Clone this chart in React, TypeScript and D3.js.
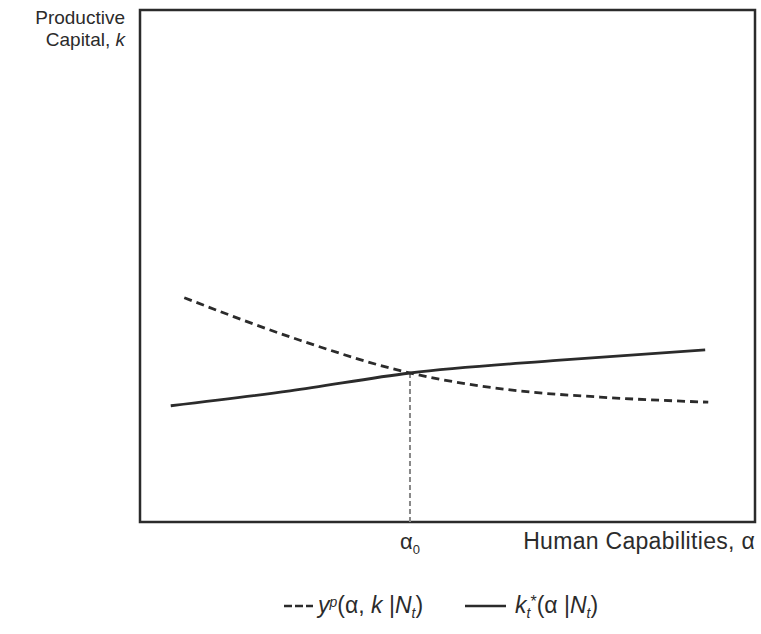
import React from "react";
import * as d3 from "d3";

// abstract units: alpha (x) 0..10, k (y) 0..10
const kStarX = [0.5, 2.44, 4.39, 6.83, 9.19];
const kStarY = [2.27, 2.56, 2.91, 3.16, 3.36];
const yPX = [0.72, 2.6, 4.39, 6.02, 7.48, 9.24];
const yPY = [4.38, 3.55, 2.91, 2.58, 2.44, 2.34];
const alpha0 = 4.39;
const alpha0K = 2.91;

const W = 761;
const H = 634;
const FONT = "'Liberation Sans', Arial, sans-serif";
const INK = "#2b2b2b";

const App: React.FC = () => {
  const x = d3.scaleLinear().domain([0, 10]).range([140, 755]);
  const y = d3.scaleLinear().domain([0, 10]).range([522, 10]);

  const line = d3
    .line<[number, number]>()
    .x((d) => x(d[0]))
    .y((d) => y(d[1]))
    .curve(d3.curveMonotoneX);

  const solid = kStarX.map((v, i) => [v, kStarY[i]] as [number, number]);
  const dashed = yPX.map((v, i) => [v, yPY[i]] as [number, number]);

  return (
    <svg
      width={W}
      height={H}
      style={{ position: "absolute", left: 0, top: 0, background: "#fff" }}
      fontFamily={FONT}
    >
      {/* frame */}
      <rect
        x={x(0)}
        y={y(10)}
        width={x(10) - x(0)}
        height={y(0) - y(10)}
        fill="none"
        stroke={INK}
        strokeWidth={2.5}
      />

      {/* vertical guide at alpha0 */}
      <line
        x1={x(alpha0)}
        x2={x(alpha0)}
        y1={y(alpha0K)}
        y2={y(0)}
        stroke="#888"
        strokeWidth={2}
        strokeDasharray="5,3"
      />

      <path d={line(dashed) ?? ""} fill="none" stroke={INK} strokeWidth={2.8} strokeDasharray="8,5" />
      <path d={line(solid) ?? ""} fill="none" stroke={INK} strokeWidth={2.8} />

      {/* y axis title */}
      <text x={125} y={24} textAnchor="end" fontSize={19} fill={INK}>
        Productive
      </text>
      <text x={125} y={46} textAnchor="end" fontSize={19} fill={INK}>
        Capital, <tspan fontStyle="italic">k</tspan>
      </text>

      {/* x axis */}
      <text x={x(alpha0)} y={549} textAnchor="middle" fontSize={22} fill={INK}>
        α<tspan fontSize={13} dy={5}>0</tspan>
      </text>
      <text x={755} y={549} textAnchor="end" fontSize={23} fill={INK} letterSpacing={0.3}>
        Human Capabilities, α
      </text>

      {/* legend */}
      <line x1={284} x2={313} y1={606} y2={606} stroke={INK} strokeWidth={2.5} strokeDasharray="8,3" />
      <text x={318} y={613} fontSize={23} fill={INK}>
        <tspan fontStyle="italic">y</tspan>
        <tspan fontSize={14} dy={-6} fontStyle="italic">p</tspan>
        <tspan dy={6}>(α, </tspan>
        <tspan fontStyle="italic">k</tspan>
        <tspan> |</tspan>
        <tspan fontStyle="italic">N</tspan>
        <tspan fontSize={14} dy={5} fontStyle="italic">t</tspan>
        <tspan dy={-5}>)</tspan>
      </text>
      <line x1={465} x2={506} y1={606} y2={606} stroke={INK} strokeWidth={2.5} />
      <text x={515} y={613} fontSize={23} fill={INK}>
        <tspan fontStyle="italic">k</tspan>
        <tspan fontSize={14} dy={5} fontStyle="italic">t</tspan>
        <tspan fontSize={16} dy={-11}>*</tspan>
        <tspan dy={6}>(α |</tspan>
        <tspan fontStyle="italic">N</tspan>
        <tspan fontSize={14} dy={5} fontStyle="italic">t</tspan>
        <tspan dy={-5}>)</tspan>
      </text>
    </svg>
  );
};

export default App;
